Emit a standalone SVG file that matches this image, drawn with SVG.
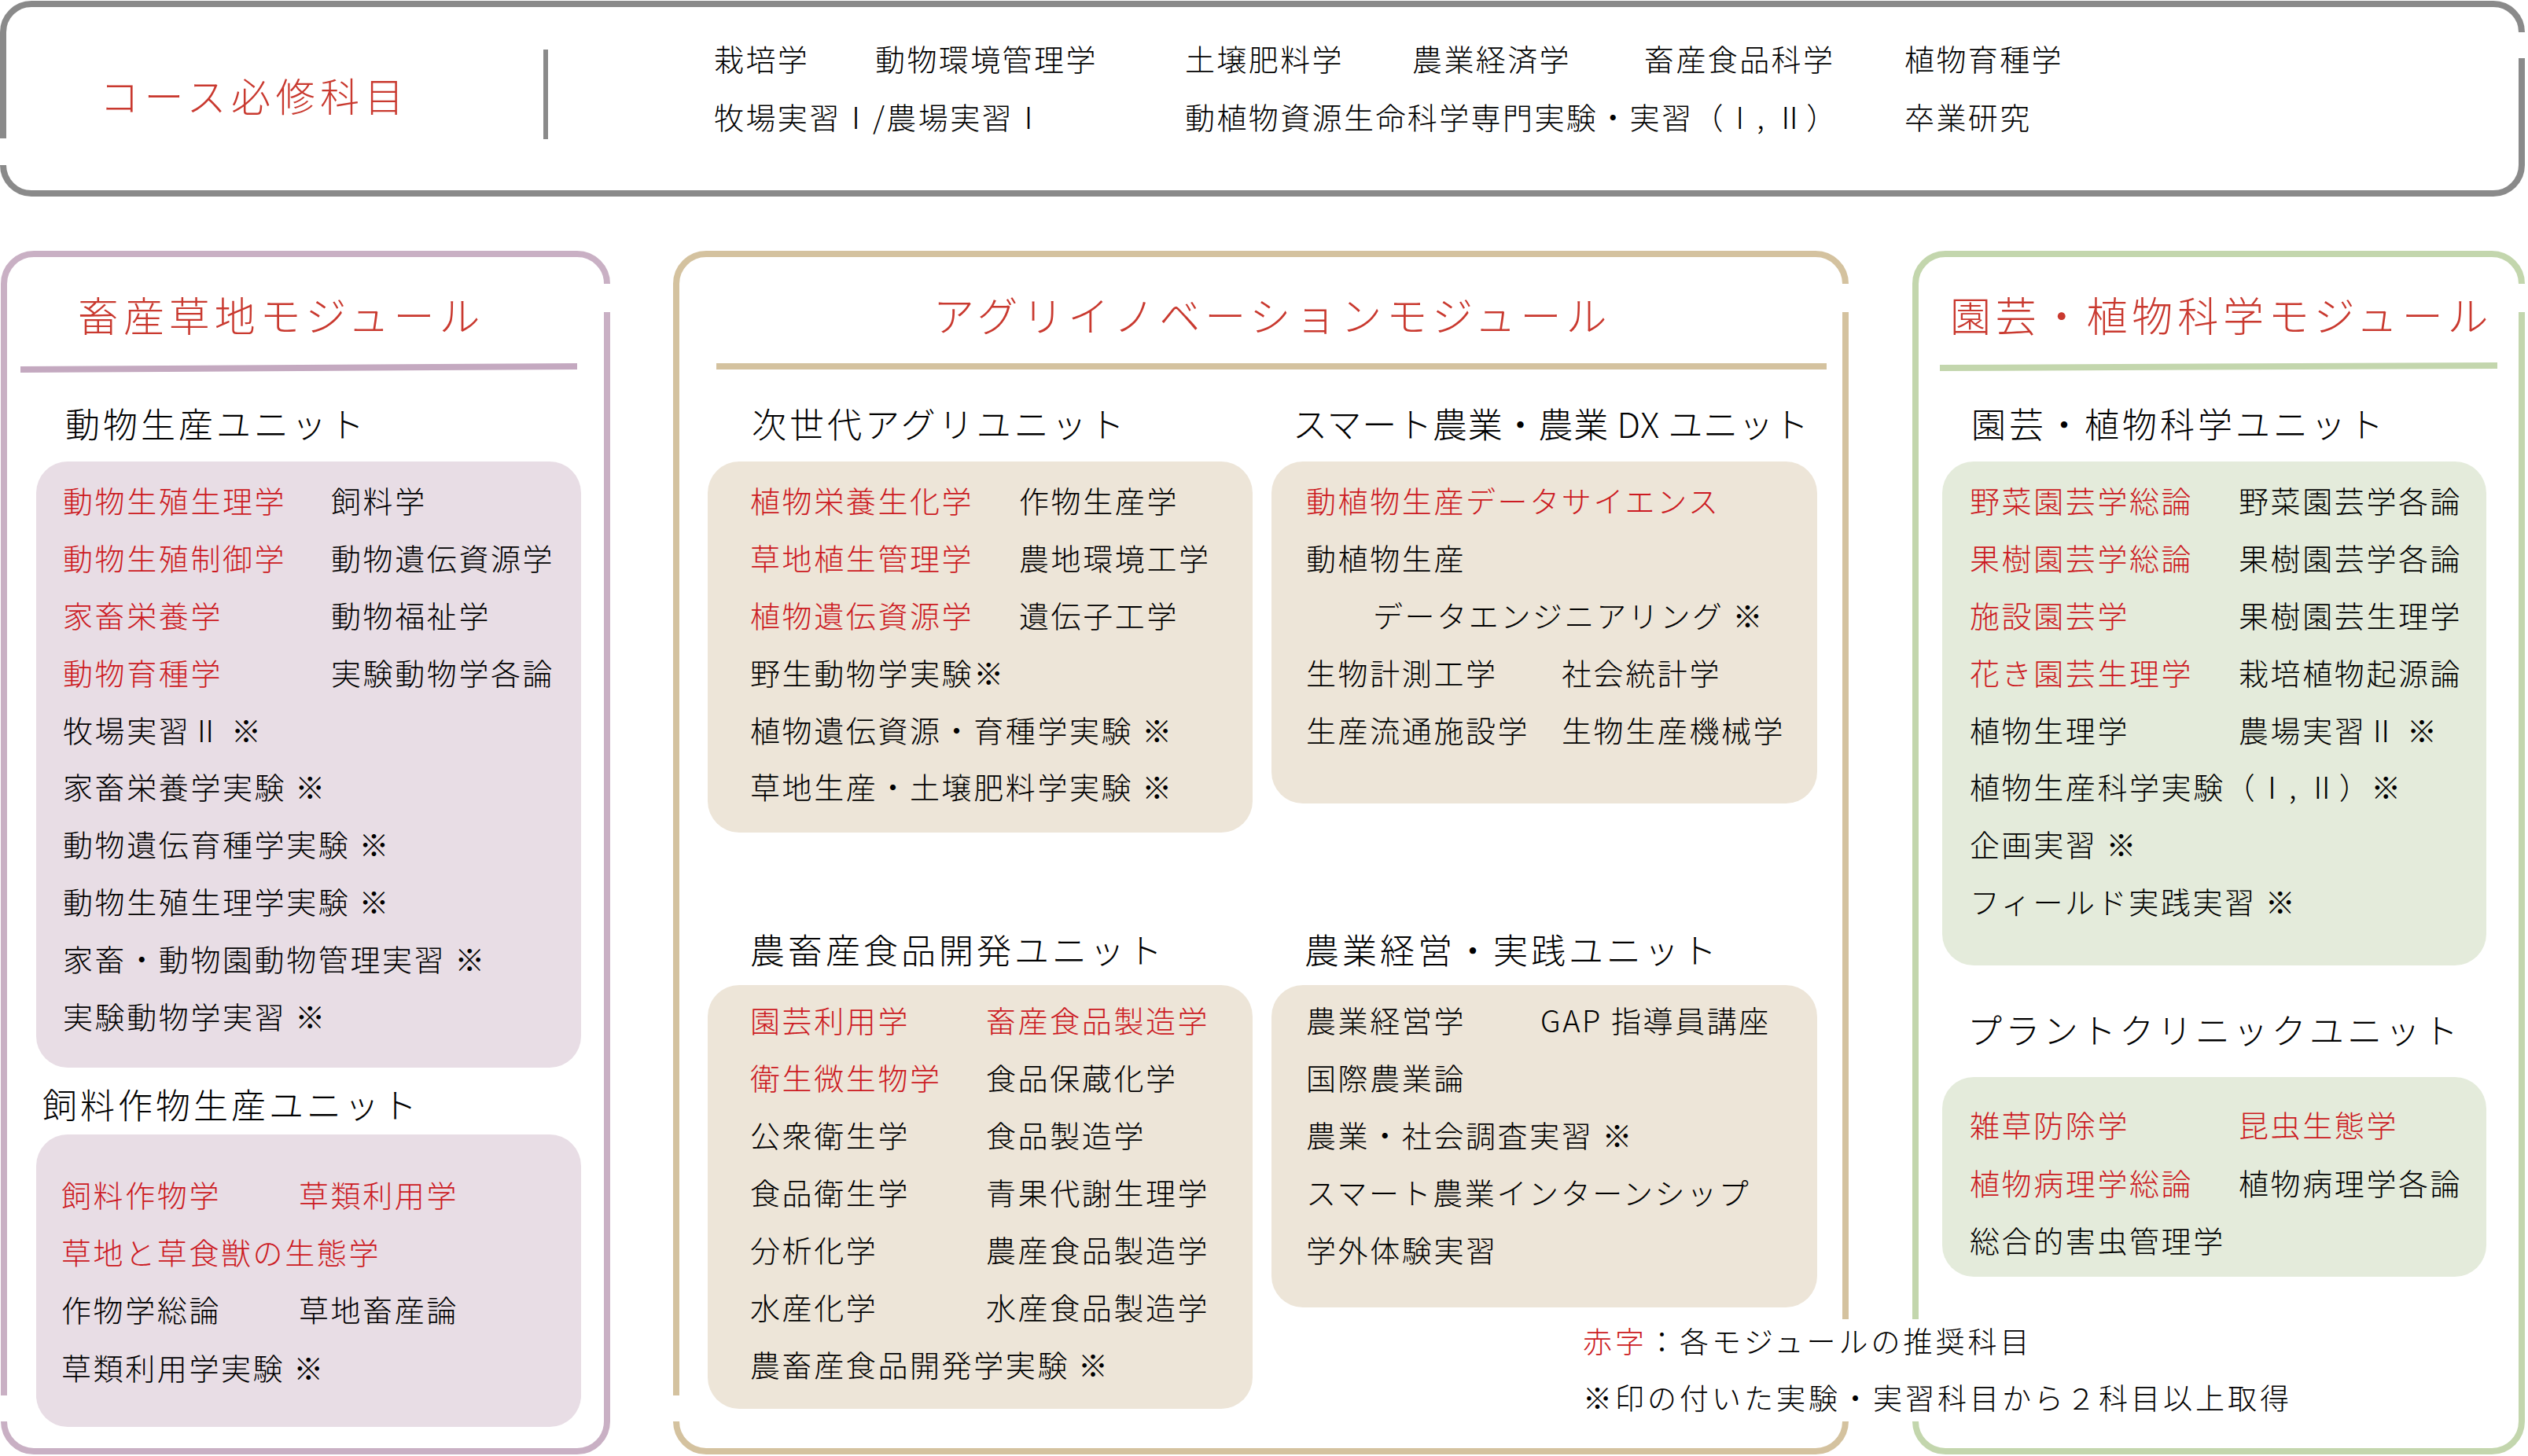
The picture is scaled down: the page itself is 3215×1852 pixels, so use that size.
<svg xmlns="http://www.w3.org/2000/svg" width="3215" height="1852" viewBox="0 0 3215 1852">
<style>
text{font-family:"Noto Sans CJK JP","Noto Sans CJK SC",sans-serif;font-weight:300;fill:#000}
.it{font-size:38px;letter-spacing:2.6px}
.r{fill:#cc1a22}
.ut{font-size:44px;letter-spacing:4px}
.mt{font-size:52px;letter-spacing:5.5px;fill:#c9392f}
.top{font-size:38px;letter-spacing:2.4px}
.lg{font-size:37px;letter-spacing:4px}
.bd{fill:none;stroke-width:8;stroke-linecap:butt}
.gray{stroke:#8a8a8a}
.pur{stroke:#c9b0c4}
.tan{stroke:#d4c29f}
.grn{stroke:#c3d6ad}
.bp{fill:#e8dde5}
.bt{fill:#ede5d8}
.bg{fill:#e4ebdb}
</style>

<g id="course-required">
<path class="bd gray" d="M4 176 V41 A36 36 0 0 1 40 5 H3171 A36 36 0 0 1 3207 41"/>
<path class="bd gray" d="M3207 74 V210 A36 36 0 0 1 3171 246 H40 A36 36 0 0 1 4 210"/>
<line x1="694" y1="63" x2="694" y2="177" stroke="#8a8a8a" stroke-width="6"/>
<text x="127" y="142" class="mt" style="font-size:50px;letter-spacing:6.5px">コース必修科目</text>
<text class="top" y="90"><tspan x="908">栽培学</tspan><tspan x="1113">動物環境管理学</tspan><tspan x="1507">土壌肥料学</tspan><tspan x="1796">農業経済学</tspan><tspan x="2091">畜産食品科学</tspan><tspan x="2422">植物育種学</tspan></text>
<text class="top" y="164"><tspan x="908">牧場実習Ⅰ/農場実習Ⅰ</tspan><tspan x="1507">動植物資源生命科学専門実験・実習（Ⅰ, Ⅱ）</tspan><tspan x="2422">卒業研究</tspan></text>
</g>

<g id="module-livestock">
<path class="bd pur" d="M5 1775 V361 A38 38 0 0 1 43 323 H734 A38 38 0 0 1 772 361"/>
<path class="bd pur" d="M772 397 V1808 A38 38 0 0 1 734 1846 H43 A38 38 0 0 1 5 1808"/>
<text x="99" y="422" class="mt" textLength="517" lengthAdjust="spacing">畜産草地モジュール</text>
<line x1="26" y1="470" x2="734" y2="466" stroke="#c4a9c0" stroke-width="8"/>
</g>

<g id="unit-animal-production">
<text x="83" y="557" class="ut">動物生産ユニット</text>
<rect x="46" y="587" width="693" height="771" rx="40" class="bp"/>
<text class="it" x="80" y="652"><tspan class="r">動物生殖生理学</tspan><tspan x="421">飼料学</tspan></text>
<text class="it" x="80" y="725"><tspan class="r">動物生殖制御学</tspan><tspan x="421">動物遺伝資源学</tspan></text>
<text class="it" x="80" y="798"><tspan class="r">家畜栄養学</tspan><tspan x="421">動物福祉学</tspan></text>
<text class="it" x="80" y="871"><tspan class="r">動物育種学</tspan><tspan x="421">実験動物学各論</tspan></text>
<text class="it" x="80" y="944">牧場実習Ⅱ ※</text>
<text class="it" x="80" y="1016">家畜栄養学実験 ※</text>
<text class="it" x="80" y="1089">動物遺伝育種学実験 ※</text>
<text class="it" x="80" y="1162">動物生殖生理学実験 ※</text>
<text class="it" x="80" y="1235">家畜・動物園動物管理実習 ※</text>
<text class="it" x="80" y="1308">実験動物学実習 ※</text>
</g>

<g id="unit-forage">
<text x="54" y="1423" class="ut">飼料作物生産ユニット</text>
<rect x="46" y="1443" width="693" height="372" rx="40" class="bp"/>
<text class="it" x="78" y="1535"><tspan class="r">飼料作物学</tspan><tspan x="380" class="r">草類利用学</tspan></text>
<text class="it r" x="78" y="1608">草地と草食獣の生態学</text>
<text class="it" x="78" y="1681">作物学総論<tspan x="380">草地畜産論</tspan></text>
<text class="it" x="78" y="1755">草類利用学実験 ※</text>
</g>

<g id="module-agri-innovation">
<path class="bd tan" d="M860 1775 V361 A38 38 0 0 1 898 323 H2309 A38 38 0 0 1 2347 361"/>
<path class="bd tan" d="M2347 397 V1678"/>
<path class="bd tan" d="M2347 1808 A38 38 0 0 1 2309 1846 H898 A38 38 0 0 1 860 1808"/>
<text x="1187" y="422" class="mt" textLength="862" lengthAdjust="spacing">アグリイノベーションモジュール</text>
<line x1="911" y1="466" x2="2323" y2="466" stroke="#d4c29f" stroke-width="8"/>
</g>

<g id="unit-next-agri">
<text x="956" y="557" class="ut">次世代アグリユニット</text>
<rect x="900" y="587" width="693" height="472" rx="40" class="bt"/>
<text class="it" x="954" y="652"><tspan class="r">植物栄養生化学</tspan><tspan x="1296">作物生産学</tspan></text>
<text class="it" x="954" y="725"><tspan class="r">草地植生管理学</tspan><tspan x="1296">農地環境工学</tspan></text>
<text class="it" x="954" y="798"><tspan class="r">植物遺伝資源学</tspan><tspan x="1296">遺伝子工学</tspan></text>
<text class="it" x="954" y="871">野生動物学実験※</text>
<text class="it" x="954" y="944">植物遺伝資源・育種学実験 ※</text>
<text class="it" x="954" y="1016">草地生産・土壌肥料学実験 ※</text>
</g>

<g id="unit-smart-agri">
<text x="1644" y="557" class="ut" textLength="660" lengthAdjust="spacing">スマート農業・農業 DX ユニット</text>
<rect x="1617" y="587" width="694" height="435" rx="40" class="bt"/>
<text class="it r" x="1661" y="652">動植物生産データサイエンス</text>
<text class="it" x="1661" y="725">動植物生産</text>
<text class="it" x="1746" y="798">データエンジニアリング ※</text>
<text class="it" x="1661" y="871">生物計測工学<tspan x="1986">社会統計学</tspan></text>
<text class="it" x="1661" y="944">生産流通施設学<tspan x="1986">生物生産機械学</tspan></text>
</g>

<g id="unit-food-dev">
<text x="954" y="1226" class="ut">農畜産食品開発ユニット</text>
<rect x="900" y="1253" width="693" height="539" rx="40" class="bt"/>
<text class="it" x="954" y="1313"><tspan class="r">園芸利用学</tspan><tspan x="1254" class="r">畜産食品製造学</tspan></text>
<text class="it" x="954" y="1386"><tspan class="r">衛生微生物学</tspan><tspan x="1254">食品保蔵化学</tspan></text>
<text class="it" x="954" y="1459">公衆衛生学<tspan x="1254">食品製造学</tspan></text>
<text class="it" x="954" y="1532">食品衛生学<tspan x="1254">青果代謝生理学</tspan></text>
<text class="it" x="954" y="1605">分析化学<tspan x="1254">農産食品製造学</tspan></text>
<text class="it" x="954" y="1678">水産化学<tspan x="1254">水産食品製造学</tspan></text>
<text class="it" x="954" y="1751">農畜産食品開発学実験 ※</text>
</g>

<g id="unit-management">
<text x="1659" y="1226" class="ut">農業経営・実践ユニット</text>
<rect x="1617" y="1253" width="694" height="410" rx="40" class="bt"/>
<text class="it" x="1661" y="1313">農業経営学<tspan x="1959">GAP 指導員講座</tspan></text>
<text class="it" x="1661" y="1386">国際農業論</text>
<text class="it" x="1661" y="1459">農業・社会調査実習 ※</text>
<text class="it" x="1661" y="1532">スマート農業インターンシップ</text>
<text class="it" x="1661" y="1605">学外体験実習</text>
</g>

<g id="module-horticulture">
<path class="bd grn" d="M2436 1678 V361 A38 38 0 0 1 2474 323 H3169 A38 38 0 0 1 3207 361"/>
<path class="bd grn" d="M3207 397 V1808 A38 38 0 0 1 3169 1846 H2474 A38 38 0 0 1 2436 1808"/>
<text x="2480" y="422" class="mt" textLength="690" lengthAdjust="spacing">園芸・植物科学モジュール</text>
<line x1="2467" y1="468" x2="3176" y2="465" stroke="#c3d6ad" stroke-width="8"/>
</g>

<g id="unit-horticulture">
<text x="2507" y="557" class="ut">園芸・植物科学ユニット</text>
<rect x="2470" y="587" width="692" height="641" rx="40" class="bg"/>
<text class="it" x="2505" y="652"><tspan class="r">野菜園芸学総論</tspan><tspan x="2847">野菜園芸学各論</tspan></text>
<text class="it" x="2505" y="725"><tspan class="r">果樹園芸学総論</tspan><tspan x="2847">果樹園芸学各論</tspan></text>
<text class="it" x="2505" y="798"><tspan class="r">施設園芸学</tspan><tspan x="2847">果樹園芸生理学</tspan></text>
<text class="it" x="2505" y="871"><tspan class="r">花き園芸生理学</tspan><tspan x="2847">栽培植物起源論</tspan></text>
<text class="it" x="2505" y="944">植物生理学<tspan x="2847">農場実習Ⅱ ※</tspan></text>
<text class="it" x="2505" y="1016">植物生産科学実験（Ⅰ, Ⅱ）※</text>
<text class="it" x="2505" y="1089">企画実習 ※</text>
<text class="it" x="2505" y="1162">フィールド実践実習 ※</text>
</g>

<g id="unit-plant-clinic">
<text x="2502" y="1328" class="ut" textLength="628" lengthAdjust="spacing">プラントクリニックユニット</text>
<rect x="2470" y="1370" width="692" height="254" rx="40" class="bg"/>
<text class="it" x="2505" y="1446"><tspan class="r">雑草防除学</tspan><tspan x="2847" class="r">昆虫生態学</tspan></text>
<text class="it" x="2505" y="1520"><tspan class="r">植物病理学総論</tspan><tspan x="2847">植物病理学各論</tspan></text>
<text class="it" x="2505" y="1593">総合的害虫管理学</text>
</g>

<g id="legend">
<text class="lg" x="2013" y="1721"><tspan class="r">赤字</tspan>：各モジュールの推奨科目</text>
<text class="lg" x="2013" y="1793">※印の付いた実験・実習科目から２科目以上取得</text>
</g>

<g id="connectors"></g>
</svg>
